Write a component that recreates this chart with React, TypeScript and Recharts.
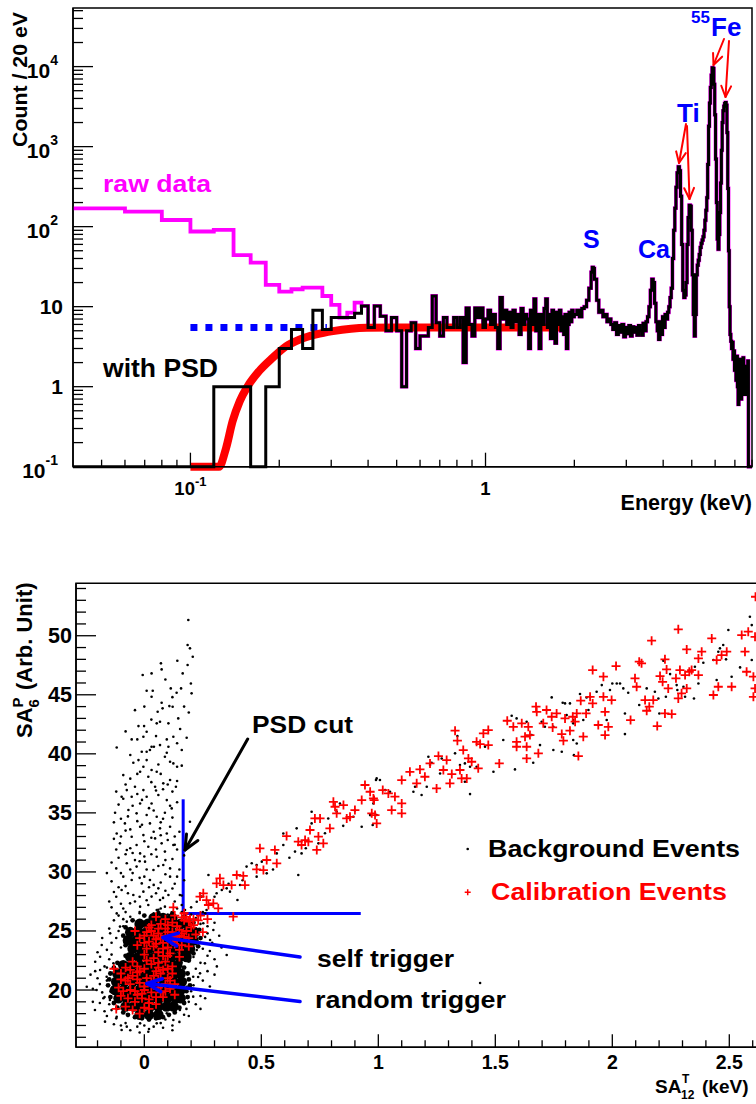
import React from "react";
import {
  LineChart,
  Line,
  XAxis,
  YAxis,
  ReferenceArea,
  ReferenceLine,
  ScatterChart,
  Scatter,
} from "recharts";

const FONT = "'Liberation Sans', Arial, Helvetica, sans-serif";

// ---------- top panel: energy spectrum ----------
const BIN_START = 0.04; // keV
const BIN_WIDTH = 0.02; // 20 eV bins
const FLOOR = 0.1; // empty bins sit on the axis

// "with PSD", 20 eV bins from 0.04 to 2.0 keV
const PSD_COUNTS = [
  0, 0, 0, 0, 1, 1, 0, 1, 3, 5.2, 3, 9, 5.2, 7.3, 7.3, 7.3, 8.3, 10.2, 5.5, 10.2,
  7.6, 5.0, 7.3, 5.0, 1.0, 5.0, 6.3, 3.0, 4.3, 4.3, 5.5, 13.6, 6.3, 4.3, 7.3, 5.5,
  5.5, 7.3, 5.5, 7.3, 2.0, 9.6, 6.0, 4.3, 9.6, 7.3, 9.6, 5.5,
  7, 9, 6, 8, 5.5, 3.0, 13, 7, 9, 6, 8.5, 5.5, 9, 6.5, 8, 4.5, 9.5, 6, 8, 7,
  3.0, 9, 6, 12.5, 5, 8, 3.0, 8, 6, 9.5, 12.5, 5.5, 8, 4, 9, 6.5, 3.5, 8.5, 6, 9,
  5, 7.5, 4.5, 8, 3.0, 6, 8.5, 6.5, 9, 7.5,
];

// raw data below 0.38 keV (above that it equals the PSD spectrum)
const RAW_LOW_COUNTS = [
  169, 154, 121, 87, 91, 44, 35.5, 18.7, 15.4, 16.5, 17.3, 17.3, 13.6, 10.5, 7.3, 8.4, 11.2,
];

// with PSD above 2 keV: [energy keV, count]
const PSD_HIGH: [number, number][] = [
  [2.0, 8], [2.04, 9], [2.08, 7.5], [2.12, 9.5], [2.16, 10], [2.2, 12], [2.24, 17],
  [2.28, 27], [2.3, 31], [2.32, 30], [2.34, 22], [2.38, 12], [2.42, 8.5], [2.46, 9],
  [2.5, 7.5], [2.54, 8], [2.58, 6.5], [2.62, 7], [2.66, 6], [2.7, 5.2], [2.74, 6.3],
  [2.78, 4.5], [2.82, 5.8], [2.86, 4.8], [2.9, 6], [2.94, 4.2], [2.98, 5.5], [3.02, 4.6],
  [3.06, 5.8], [3.1, 4.3], [3.14, 5.6], [3.18, 4.8], [3.22, 5.5], [3.26, 4.4], [3.3, 5.8],
  [3.34, 5.0], [3.38, 4.4], [3.42, 6.2], [3.46, 5.0], [3.5, 6.5], [3.54, 7.5], [3.58, 10],
  [3.62, 16], [3.66, 22], [3.7, 20], [3.74, 11], [3.78, 6.5], [3.82, 5.0], [3.86, 3.9],
  [3.9, 6.5], [3.94, 4.5], [3.98, 7.5], [4.02, 5.5], [4.06, 8.0], [4.1, 7.0], [4.14, 8.5],
  [4.18, 10], [4.22, 13], [4.26, 17], [4.3, 40], [4.34, 90], [4.38, 170], [4.42, 310],
  [4.46, 470], [4.5, 560], [4.54, 500], [4.58, 240], [4.62, 60], [4.66, 16], [4.7, 13],
  [4.74, 14], [4.78, 20], [4.82, 60], [4.86, 130], [4.9, 185], [4.94, 180], [4.98, 90],
  [5.02, 25], [5.06, 8], [5.1, 4.3], [5.14, 8], [5.18, 25], [5.22, 33], [5.26, 38],
  [5.3, 45], [5.34, 55], [5.38, 62], [5.42, 68], [5.46, 75], [5.5, 90], [5.54, 120],
  [5.58, 160], [5.62, 230], [5.66, 600], [5.7, 1800], [5.74, 3500], [5.78, 5500],
  [5.82, 7800], [5.86, 9700], [5.9, 9500], [5.94, 6000], [5.98, 2500], [6.02, 700],
  [6.06, 200], [6.1, 70], [6.14, 52], [6.18, 80], [6.22, 150], [6.26, 350], [6.3, 900],
  [6.34, 2000], [6.38, 2800], [6.42, 3200], [6.46, 3450], [6.5, 3570], [6.54, 3300],
  [6.58, 1500], [6.62, 300], [6.66, 50], [6.7, 10], [6.74, 4.5], [6.78, 3.7], [6.82, 3.0],
  [6.86, 3.6], [6.9, 2.2], [6.94, 2.8], [6.98, 1.6], [7.02, 2.1], [7.06, 1.2], [7.1, 2.4],
  [7.14, 1.0], [7.18, 0.6], [7.22, 1.6], [7.26, 0.8], [7.3, 2.2], [7.34, 0.7], [7.38, 2.0],
  [7.42, 1.0], [7.46, 2.3], [7.5, 1.4], [7.54, 0.8], [7.58, 1.8], [7.62, 1.0], [7.66, 0.8],
  [7.7, 1.6], [7.74, 2.1], [7.78, 0], [8.0, 0],
];

// efficiency fit (red) and flat level (blue)
const FIT_CURVE: [number, number][] = [
  [0.1, 0.1], [0.12, 0.1], [0.125, 0.1], [0.132, 0.17], [0.139, 0.37], [0.147, 0.66],
  [0.156, 1.0], [0.171, 1.57], [0.19, 2.3], [0.211, 3.2], [0.235, 3.9], [0.267, 4.5],
  [0.304, 4.95], [0.35, 5.3], [0.395, 5.45], [0.5, 5.5], [1.0, 5.5], [1.8, 5.5],
];
const FLAT_LEVEL: [number, number][] = [[0.1, 5.5], [0.29, 5.5]];

const TOP_Y_MAJOR = [0.1, 1, 10, 100, 1000, 10000];
const TOP_Y_LABELS = [["10", "-1"], ["1", ""], ["10", ""], ["10", "2"], ["10", "3"], ["10", "4"]];
const TOP_X_MAJOR = [0.1, 1];
const TOP_X_LABELS = [["10", "-1"], ["1", ""]];
const TOP_X_MINOR = [0.05, 0.06, 0.07, 0.08, 0.09, 0.2, 0.3, 0.4, 0.5, 0.6, 0.7, 0.8, 0.9, 2, 3, 4, 5, 6, 7, 8];

// ---------- bottom panel: pulse shape scatter ----------
const BG_PLUME: [number, number][] = [
  [0.188, 51.33], [0.185, 49.21], [0.195, 48.93], [0.207, 48.22], [0.141, 47.88], [0.185, 47.52],
  [0.071, 47.66], [0.074, 47.15], [-0.007, 46.67], [0.031, 46.81], [0.164, 46.81], [0.199, 45.96],
  [0.113, 45.54], [0.138, 45.17], [0.157, 45.54], [0.202, 45.12], [0.01, 45.34], [0.036, 45.34],
  [0.031, 44.83], [0.074, 44.33], [0.107, 44.04], [0.121, 43.99], [0.078, 43.85], [0.057, 43.56],
  [0.145, 43.0], [0.103, 42.58], [0.067, 42.72], [0.053, 42.58], [-0.025, 42.35], [-0.001, 42.35],
  [0.153, 42.1], [0.01, 41.87], [-0.054, 41.22], [-0.03, 41.22], [-0.004, 41.45], [0.096, 41.22],
  [0.124, 41.45], [0.181, 41.36], [-0.118, 40.54], [0.031, 40.6], [0.041, 40.6], [0.067, 40.74],
  [0.103, 40.6], [0.16, 40.32], [-0.011, 40.18], [0.01, 40.18], [0.024, 40.32], [0.096, 40.09],
  [-0.025, 39.47], [0.01, 39.47], [0.088, 39.75], [0.11, 39.33], [0.124, 39.19], [-0.047, 39.25],
  [-0.004, 38.91], [0.031, 38.63], [0.053, 38.48], [-0.018, 38.48], [0.017, 38.06], [0.11, 37.78],
  [0.081, 37.5], [-0.04, 37.21], [0.046, 37.21], [-0.075, 36.93], [-0.004, 36.93], [0.135, 37.21],
  [-0.097, 36.37], [-0.054, 36.37], [0.01, 36.37], [0.06, 36.51], [0.096, 36.08], [-0.018, 35.8],
  [0.031, 35.8], [0.117, 35.38], [-0.125, 35.01], [-0.068, 35.24], [-0.033, 34.96], [0.01, 34.82],
  [0.053, 34.67], [0.088, 35.01], [0.195, 34.25], [-0.083, 34.11], [-0.018, 33.83], [0.024, 34.11],
  [0.067, 33.69], [0.11, 33.83], [-0.118, 33.26], [-0.054, 32.98], [-0.004, 33.12], [0.046, 32.84],
  [0.096, 33.26], [-0.104, 32.42], [-0.033, 32.28], [0.017, 32.13], [0.074, 32.42], [0.124, 32.28],
  [-0.075, 31.86], [-0.018, 31.57], [0.053, 31.29], [0.088, 31.72], [-0.075, 30.73], [-0.033, 30.45],
  [0.003, 30.87], [0.039, 30.16], [0.081, 30.59], [0.11, 29.6], [-0.09, 29.6], [-0.054, 29.32],
  [-0.011, 29.03], [0.024, 29.32], [0.06, 28.61], [-0.097, 28.47], [-0.047, 28.05], [-0.004, 28.33],
  [0.031, 27.91], [0.067, 27.62], [0.103, 28.05], [-0.061, 27.34], [-0.018, 27.06], [0.017, 27.2],
  [0.053, 26.78], [0.088, 27.06], [-0.118, 26.49], [0.124, 26.49], [0.152, 28.05],
  [-0.09, 38.2], [0.06, 39.1], [0.14, 38.9], [-0.06, 37.9], [0.03, 37.6], [0.12, 36.8], [-0.03, 36.6],
  [0.08, 37.0], [-0.11, 35.7], [0.04, 35.2], [0.14, 35.9], [-0.05, 35.6], [0.07, 34.2], [-0.1, 34.5],
  [0.12, 34.6], [-0.03, 34.3], [0.15, 33.4], [-0.08, 33.5], [0.04, 33.4], [-0.13, 32.8], [0.1, 32.7],
  [0.0, 32.6], [-0.06, 32.0], [0.14, 31.9], [0.03, 31.5], [-0.11, 31.2], [0.12, 31.1], [-0.02, 30.9],
  [0.06, 30.5], [-0.12, 30.3], [0.15, 30.2], [-0.05, 29.9], [0.09, 29.8], [0.0, 29.6], [-0.14, 29.2],
  [0.13, 29.0], [0.04, 28.9], [-0.08, 28.8], [0.09, 28.4], [-0.12, 27.9], [0.01, 27.6], [0.13, 27.5],
  [-0.04, 27.5], [0.07, 26.9], [-0.09, 26.9], [0.16, 27.2], [-0.02, 26.5], [0.1, 26.4], [0.03, 42.9],
  [0.12, 44.8], [-0.04, 43.7], [0.09, 46.3], [0.17, 44.0], [-0.06, 39.9], [0.16, 39.0], [0.05, 41.5],
  [-0.08, 41.9], [0.14, 40.9], [0.0, 44.0], [0.19, 43.5],
  [-0.15, 27.5], [-0.13, 28.3], [-0.1, 27.3], [-0.07, 28.2], [-0.02, 27.9], [0.05, 28.2], [0.12, 28.6],
  [0.16, 28.0], [-0.14, 30.8], [-0.1, 29.9], [-0.06, 30.2], [-0.02, 29.5], [0.02, 28.7], [0.07, 29.1],
  [0.11, 30.3], [0.14, 29.6], [-0.12, 31.9], [-0.08, 31.5], [-0.04, 31.0], [0.0, 31.3], [0.05, 31.9],
  [0.09, 31.0], [0.13, 32.3], [0.17, 31.4], [-0.1, 33.0], [-0.06, 33.6], [-0.01, 34.0], [0.03, 32.9],
  [0.07, 33.1], [0.13, 33.0], [-0.13, 34.2], [-0.07, 34.7], [0.02, 35.4], [0.08, 34.5], [0.11, 35.6],
  [-0.09, 36.2], [-0.01, 36.1], [0.05, 36.9], [0.1, 37.4], [-0.12, 36.8], [-0.08, 37.4], [0.14, 37.7],
  [-0.03, 38.3], [0.07, 38.3], [-0.14, 27.0], [0.14, 26.9], [-0.08, 26.6], [0.04, 26.5], [-0.11, 28.7],
  [0.08, 27.8], [-0.16, 29.9], [0.17, 29.3], [-0.05, 31.6], [0.01, 30.2],
];

const BG_HALO: [number, number][] = [
  [-0.182, 23.81], [-0.246, 20.28], [-0.211, 18.31], [-0.168, 17.32], [-0.097, 16.62], [0.017, 16.47],
  [-0.018, 17.18], [-0.146, 24.8], [-0.132, 22.26], [-0.161, 21.13], [-0.147, 19.16], [-0.118, 17.74],
  [-0.075, 16.9], [0.053, 17.18], [0.096, 18.03], [0.152, 18.31], [0.209, 19.44], [0.238, 21.41],
  [0.259, 22.26], [0.281, 24.24], [0.295, 25.08], [0.252, 25.65], [0.352, 22.97], [0.224, 23.39],
  [0.181, 20.28], [0.209, 21.13], [0.188, 22.82], [-0.189, 21.7], [-0.204, 20.0], [-0.175, 19.3],
  [-0.104, 25.37], [-0.075, 25.79], [0.238, 20.0], [0.124, 17.46], [-0.047, 18.31], [-0.189, 22.82],
  [1.435, 20.6], [-0.17, 22.0], [-0.16, 20.8], [-0.18, 19.8], [-0.15, 18.8], [-0.12, 17.6], [-0.08, 17.2],
  [0.09, 17.5], [0.14, 18.5], [0.19, 19.0], [0.21, 20.4], [0.22, 21.8], [0.21, 22.8], [0.25, 23.5],
  [0.26, 24.5], [0.24, 25.6], [0.2, 26.4], [-0.1, 23.6], [-0.12, 24.4], [-0.09, 25.4], [-0.06, 26.2],
  [-0.14, 23.0], [0.28, 23.3], [0.3, 22.6], [0.27, 21.6], [0.24, 19.5], [-0.2, 21.0], [-0.22, 19.0],
  [0.04, 16.9], [0.12, 17.0], [-0.03, 16.9], [-0.13, 25.9], [-0.16, 23.4], [-0.19, 20.5], [-0.17, 18.2],
  [-0.1, 17.0], [0.0, 17.0], [0.07, 17.2], [0.17, 17.9], [0.22, 18.8], [0.25, 20.8], [0.27, 22.9],
  [0.29, 24.0], [0.27, 25.4], [0.22, 26.1], [-0.02, 26.6], [0.06, 26.8], [0.12, 26.0], [-0.21, 22.4],
  [-0.23, 21.3],
  [-0.2, 23.2], [-0.18, 24.4], [-0.15, 25.2], [-0.11, 26.3], [-0.22, 20.1], [-0.21, 21.6], [-0.19, 18.9],
  [-0.16, 17.8], [-0.13, 17.1], [-0.06, 16.6], [0.02, 16.7], [0.08, 16.8], [0.15, 17.3], [0.19, 17.8],
  [0.24, 18.4], [0.26, 19.3], [0.28, 20.3], [0.3, 21.3], [0.31, 22.0], [0.33, 23.6], [0.32, 24.6],
  [0.3, 25.7], [0.26, 26.5], [0.16, 26.6], [-0.15, 22.6], [-0.16, 21.9], [-0.17, 19.4], [-0.14, 18.3],
  [0.18, 18.4], [0.2, 19.9], [0.23, 21.1], [0.24, 22.3], [0.23, 24.0], [0.22, 25.2], [0.27, 24.8],
  [-0.14, 24.0], [-0.11, 25.0], [-0.09, 26.0], [0.12, 16.6], [-0.02, 16.4],
];

// fringe of the two dense clusters (medium dots)
const BG_EDGE: [number, number][] = [
  [-0.155, 20.4], [-0.145, 19.4], [-0.115, 18.5], [-0.07, 17.9], [-0.01, 17.6], [0.05, 17.6],
  [0.105, 17.9], [0.15, 18.5], [0.185, 19.4], [0.195, 20.4], [0.185, 21.4], [0.155, 22.3],
  [-0.145, 21.4], [-0.115, 22.3], [-0.14, 19.9], [-0.13, 18.9], [-0.09, 18.1], [-0.04, 17.7],
  [0.02, 17.5], [0.08, 17.7], [0.13, 18.1], [0.17, 18.9], [0.18, 19.9], [0.19, 20.9], [0.17, 21.9],
  [-0.15, 20.9], [-0.13, 21.9], [-0.09, 24.6], [-0.08, 23.8], [-0.08, 25.3], [-0.05, 25.9],
  [0.0, 26.3], [0.06, 26.5], [0.12, 26.5], [0.17, 26.2], [0.21, 25.7], [0.235, 25.1], [0.24, 24.4],
  [0.23, 23.7], [0.21, 23.1], [0.19, 22.5], [-0.08, 22.9],
];

// dense cores of the random-trigger and self-trigger clusters
const BG_CORE: [number, number][] = [
  [-0.02, 17.9], [0.02, 17.9], [0.06, 17.9],
  [-0.08, 18.6], [-0.045, 18.6], [-0.01, 18.6], [0.025, 18.6], [0.06, 18.6], [0.095, 18.6], [0.125, 18.6],
  [-0.11, 19.3], [-0.075, 19.3], [-0.04, 19.3], [-0.005, 19.3], [0.03, 19.3], [0.065, 19.3], [0.1, 19.3], [0.135, 19.3], [0.155, 19.3],
  [-0.125, 20.0], [-0.09, 20.0], [-0.055, 20.0], [-0.02, 20.0], [0.015, 20.0], [0.05, 20.0], [0.085, 20.0], [0.12, 20.0], [0.155, 20.0],
  [-0.12, 20.7], [-0.085, 20.7], [-0.05, 20.7], [-0.015, 20.7], [0.02, 20.7], [0.055, 20.7], [0.09, 20.7], [0.125, 20.7], [0.16, 20.7],
  [-0.115, 21.4], [-0.08, 21.4], [-0.045, 21.4], [-0.01, 21.4], [0.025, 21.4], [0.06, 21.4], [0.095, 21.4], [0.13, 21.4], [0.155, 21.4],
  [-0.09, 22.1], [-0.055, 22.1], [-0.02, 22.1], [0.015, 22.1], [0.05, 22.1], [0.085, 22.1], [0.12, 22.1], [0.14, 22.1],
  [-0.06, 22.8], [-0.025, 22.8], [0.01, 22.8], [0.045, 22.8], [0.08, 22.8], [0.115, 22.8], [0.15, 22.8], [0.18, 22.8],
  [-0.05, 23.5], [-0.015, 23.5], [0.02, 23.5], [0.055, 23.5], [0.09, 23.5], [0.125, 23.5], [0.16, 23.5], [0.195, 23.5],
  [-0.07, 24.2], [-0.035, 24.2], [0.0, 24.2], [0.035, 24.2], [0.07, 24.2], [0.105, 24.2], [0.14, 24.2], [0.175, 24.2], [0.21, 24.2],
  [-0.06, 24.9], [-0.025, 24.9], [0.01, 24.9], [0.045, 24.9], [0.08, 24.9], [0.115, 24.9], [0.15, 24.9], [0.185, 24.9], [0.215, 24.9],
  [-0.02, 25.6], [0.015, 25.6], [0.05, 25.6], [0.085, 25.6], [0.12, 25.6], [0.155, 25.6], [0.185, 25.6],
  [0.04, 26.1], [0.08, 26.1], [0.12, 26.1],
];

const BG_BAND: [number, number][] = [
  [0.174, 26.78], [0.224, 27.48], [0.245, 27.91], [0.266, 26.78], [0.309, 28.19], [0.331, 28.47],
  [0.352, 28.61], [0.366, 28.33], [0.398, 27.62], [0.409, 28.89], [0.437, 30.45], [0.459, 30.73],
  [0.48, 30.59], [0.502, 30.87], [0.523, 29.88], [0.566, 31.57], [0.594, 32.28], [0.644, 31.72],
  [0.658, 29.74], [0.672, 31.57], [0.744, 32.42], [0.772, 33.27], [0.274, 29.74], [0.594, 33.26],
  [0.651, 33.69], [0.715, 34.11], [0.715, 35.1], [0.786, 34.53], [0.822, 35.1], [0.836, 35.8],
  [0.893, 34.67], [0.929, 33.83], [0.965, 34.81], [0.993, 37.92], [0.979, 36.08],
  [0.2, 27.0], [0.25, 26.6], [0.3, 27.9], [0.36, 29.0], [0.42, 29.3], [0.48, 29.6], [0.55, 30.2],
  [0.62, 31.2], [0.69, 32.0], [0.85, 33.9], [0.9, 35.2],
  [0.979, 35.8], [0.976, 33.97], [0.99, 37.78], [1.007, 37.78], [1.029, 36.93], [1.05, 36.79],
  [0.993, 34.82], [1.15, 36.79], [1.157, 37.21], [1.185, 36.51], [1.207, 37.21], [1.214, 39.75],
  [1.221, 39.05], [1.228, 39.25], [1.264, 38.34], [1.271, 39.61], [1.328, 40.04], [1.338, 41.5],
  [1.349, 39.05], [1.37, 39.19], [1.392, 38.91], [1.37, 37.64], [1.392, 36.59], [1.42, 38.91],
  [1.456, 40.6], [1.492, 38.48], [1.534, 41.17], [1.584, 38.68], [1.57, 43.23], [1.591, 43.0],
  [1.634, 42.72], [1.655, 41.59], [1.662, 39.25], [1.691, 40.74], [1.698, 42.72], [1.712, 42.29],
  [1.741, 44.78], [1.748, 42.29], [1.748, 40.32], [1.784, 40.18], [1.788, 44.33], [1.798, 44.27],
  [1.805, 43.28], [1.819, 44.27], [1.833, 42.86], [1.833, 42.58], [1.833, 41.17], [1.848, 40.88],
  [1.836, 39.89], [1.862, 45.06], [1.876, 42.86], [1.89, 44.78], [1.898, 43.71], [1.905, 44.83],
  [1.933, 45.26], [1.955, 45.82], [1.976, 42.86], [1.99, 45.4], [2.0, 45.96], [2.019, 45.96],
  [2.033, 45.96], [2.047, 45.54], [2.054, 43.42], [2.054, 41.67], [2.068, 45.17], [2.115, 44.13],
  [2.147, 45.54], [2.182, 45.26], [2.197, 44.69], [2.201, 43.42], [2.218, 47.88], [2.229, 44.83],
  [2.247, 46.75], [2.275, 45.82], [2.278, 45.4], [2.304, 45.68], [2.311, 44.83], [2.349, 44.69],
  [2.353, 47.38], [2.368, 45.96], [2.389, 47.71], [2.432, 47.94], [2.446, 46.25], [2.453, 48.65],
  [2.46, 48.93], [2.474, 49.21], [2.486, 48.0], [2.496, 50.48], [2.51, 46.53], [2.546, 47.32],
  [2.588, 51.61], [2.596, 50.9], [2.596, 47.94],
];

const CAL_CLUSTER: [number, number][] = [
  [0.0, 24.6], [0.03, 25.0], [0.06, 24.8], [0.09, 25.2], [0.12, 24.9], [0.15, 25.1], [0.18, 25.0],
  [0.02, 24.1], [0.05, 24.3], [0.08, 24.0], [0.11, 24.4], [0.14, 24.2], [0.17, 24.5], [-0.02, 24.4],
  [0.04, 23.7], [0.1, 23.6], [0.13, 23.9], [0.07, 25.6], [0.12, 25.7], [0.2, 25.3], [0.22, 24.7],
  [0.16, 23.8], [-0.04, 25.0], [0.01, 23.5], [0.06, 23.2], [0.19, 25.8], [0.24, 26.3], [0.09, 24.6],
  [0.15, 24.6], [0.03, 25.5], [0.18, 26.2], [0.21, 26.0], [0.13, 26.3],
  [0.01, 24.9], [0.04, 24.6], [0.07, 24.4], [0.1, 24.9], [0.13, 24.5], [0.16, 24.8], [0.19, 24.4],
  [0.02, 25.3], [0.06, 25.2], [0.1, 25.5], [0.14, 25.4], [0.17, 25.9], [0.05, 23.9], [0.08, 23.5],
  [0.12, 24.1], [0.15, 23.4], [0.19, 23.7], [0.21, 25.5], [0.23, 25.9], [0.0, 24.0], [-0.03, 23.8],
  [0.11, 23.1], [0.09, 26.0], [0.25, 24.9], [0.17, 26.5], [0.27, 26.0], [0.05, 26.2],
  [-0.08, 20.8], [-0.05, 21.2], [-0.02, 20.6], [0.01, 21.0], [0.04, 20.4], [0.07, 21.4], [0.1, 21.0],
  [-0.06, 20.0], [-0.03, 19.6], [0.0, 20.0], [0.03, 19.8], [0.06, 20.2], [0.09, 19.9], [-0.07, 19.3],
  [-0.04, 19.0], [-0.01, 19.3], [0.02, 18.9], [0.05, 19.4], [0.0, 21.8], [0.03, 22.2], [0.06, 21.9],
  [0.09, 22.4], [0.12, 22.0], [-0.03, 22.0], [0.04, 22.7], [0.08, 22.9], [-0.1, 20.9], [0.12, 21.4],
  [-0.08, 18.6], [-0.12, 18.4], [0.0, 18.5], [-0.06, 21.7], [0.13, 20.5], [0.15, 22.8], [-0.1, 21.4],
  [-0.09, 19.9], [-0.06, 20.5], [-0.03, 20.9], [0.0, 20.3], [0.03, 20.7], [0.06, 20.9], [0.09, 20.5],
  [-0.08, 21.9], [-0.05, 22.4], [-0.02, 21.6], [0.01, 22.5], [0.06, 22.3], [0.1, 21.8], [-0.05, 18.3],
  [-0.02, 18.0], [0.02, 18.4], [0.05, 18.8], [0.08, 19.4], [0.11, 20.1], [-0.1, 19.5], [-0.04, 19.9],
  [0.02, 19.2], [0.07, 19.8], [-0.07, 21.0], [0.04, 21.2], [0.08, 21.7], [-0.11, 20.2], [0.13, 19.6],
  [0.1, 22.9], [0.0, 23.0], [-0.03, 21.5], [0.05, 21.6], [-0.01, 19.7], [0.11, 20.8], [-0.13, 21.8],
];

const CAL_BAND: [number, number][] = [
  [0.124, 27.0], [0.16, 26.16], [0.195, 25.99], [0.238, 27.91], [0.252, 28.19], [0.266, 27.62],
  [0.274, 27.2], [0.295, 27.34], [0.309, 29.03], [0.316, 26.92], [0.323, 29.46], [0.338, 28.89],
  [0.373, 28.89], [0.38, 26.21], [0.395, 29.74], [0.423, 29.66], [0.43, 28.89], [0.48, 30.22],
  [0.494, 32.0], [0.509, 30.16], [0.523, 31.01], [0.558, 31.86], [0.566, 30.73], [0.608, 33.04],
  [0.658, 32.56], [0.672, 32.28], [0.687, 32.7], [0.708, 33.55], [0.737, 31.86], [0.744, 32.99],
  [0.765, 32.42], [0.701, 32.56], [0.729, 34.53], [0.751, 34.53], [0.793, 33.69], [0.808, 35.94],
  [0.815, 35.52], [0.822, 34.96], [0.851, 35.66], [0.865, 34.53], [0.879, 34.67], [0.9, 35.24],
  [0.929, 36.08], [0.943, 37.36], [0.965, 36.79], [0.986, 34.81], [0.993, 34.11], [0.979, 36.22],
  [0.982, 36.08], [0.972, 34.96], [1.019, 36.93], [1.043, 36.65], [1.071, 36.37], [1.1, 37.78],
  [1.1, 35.8], [1.1, 34.96], [1.057, 35.24], [1.135, 38.48], [1.164, 37.5], [1.178, 38.68],
  [1.199, 38.06], [1.221, 39.19], [1.257, 39.81], [1.249, 37.07], [1.278, 38.63], [1.292, 39.47],
  [1.306, 37.5], [1.314, 38.29], [1.328, 41.96], [1.338, 41.11], [1.349, 38.63], [1.356, 37.92],
  [1.363, 40.32], [1.378, 37.92], [1.385, 39.61], [1.399, 39.33], [1.42, 41.02], [1.435, 40.83],
  [1.449, 41.73], [1.47, 42.01], [1.47, 40.74], [1.427, 38.77], [1.517, 39.19], [1.551, 42.8],
  [1.577, 42.29], [1.591, 41.02], [1.591, 40.6], [1.613, 42.58], [1.627, 41.45], [1.634, 40.6],
  [1.634, 39.61], [1.641, 42.29], [1.648, 41.59], [1.674, 43.99], [1.677, 43.56], [1.684, 40.04],
  [1.705, 42.58], [1.719, 43.71], [1.741, 43.14], [1.745, 42.24], [1.762, 43.42], [1.784, 41.67],
  [1.791, 41.11], [1.798, 43.0], [1.819, 41.96], [1.831, 43.14], [1.841, 42.72], [1.848, 43.42],
  [1.855, 39.81], [1.865, 44.5], [1.876, 41.45], [1.888, 43.42], [1.905, 44.83], [1.916, 47.09],
  [1.916, 44.27], [1.94, 42.44], [1.962, 46.53], [1.962, 44.83], [1.969, 43.56], [1.969, 41.59],
  [1.983, 42.29], [1.997, 44.55], [2.016, 47.43], [2.078, 42.86], [2.097, 46.39], [2.104, 45.68],
  [2.115, 47.8], [2.125, 47.66], [2.14, 44.55], [2.147, 43.65], [2.158, 43.99], [2.168, 49.58],
  [2.175, 44.55], [2.192, 42.35], [2.204, 46.58], [2.215, 46.1], [2.225, 48.0], [2.225, 43.42],
  [2.232, 47.15], [2.239, 45.54], [2.254, 43.37], [2.272, 46.39], [2.282, 50.54], [2.282, 44.69],
  [2.289, 47.09], [2.296, 45.12], [2.311, 46.67], [2.318, 48.84], [2.318, 45.54], [2.329, 46.95],
  [2.339, 47.09], [2.368, 46.67], [2.368, 48.08], [2.382, 48.65], [2.425, 49.77], [2.432, 44.98],
  [2.446, 47.94], [2.453, 45.68], [2.467, 48.36], [2.489, 48.65], [2.51, 45.68], [2.553, 50.06],
  [2.567, 48.65], [2.574, 46.95], [2.581, 50.34], [2.603, 46.53], [2.603, 44.83], [2.61, 49.91],
  [2.61, 45.54], [2.612, 53.3],
];

const PSD_CUT_X = 0.166;
const PSD_CUT_Y = 26.48;

const BOT_X_MAJOR = [0, 0.5, 1, 1.5, 2, 2.5];
const BOT_X_LABELS = ["0", "0.5", "1", "1.5", "2", "2.5"];
const BOT_Y_MAJOR = [20, 25, 30, 35, 40, 45, 50];

// ---------- derived series ----------
const psdSeries = [
  ...PSD_COUNTS.map((c, i) => ({ e: +(BIN_START + i * BIN_WIDTH).toFixed(2), c: Math.max(c, FLOOR) })),
  ...PSD_HIGH.map(([e, c]) => ({ e, c: Math.max(c, FLOOR) })),
];
const rawSeries = [
  ...RAW_LOW_COUNTS.map((c, i) => ({ e: +(BIN_START + i * BIN_WIDTH).toFixed(2), c })),
  ...psdSeries.slice(RAW_LOW_COUNTS.length),
];
const fitSeries = FIT_CURVE.map(([e, c]) => ({ e, c }));
const flatSeries = FLAT_LEVEL.map(([e, c]) => ({ e, c }));

const topYTicks: number[] = [];
TOP_Y_MAJOR.forEach((d) => {
  topYTicks.push(d);
  for (let k = 2; k <= 9; k++) if (d * k < 54000) topYTicks.push(d * k);
});
const topXTicks = [...TOP_X_MAJOR, ...TOP_X_MINOR];

const botXTicks: number[] = [];
for (let i = -2; i <= 26; i++) botXTicks.push(i / 10);
const botYTicks: number[] = [];
for (let i = 16; i <= 54; i++) botYTicks.push(i);

const pts = (a: [number, number][]) => a.map(([x, y]) => ({ x, y }));
const near = (list: number[], v: number) => list.findIndex((m) => Math.abs(m - v) < 1e-9);

// ---------- tick renderers (ROOT style: ticks inside the frame) ----------
const TopYTick = ({ x, y, payload }: any) => {
  const i = near(TOP_Y_MAJOR, payload.value);
  const lab = i >= 0 ? TOP_Y_LABELS[i] : null;
  return (
    <g>
      <line x1={x} x2={x + (lab ? 20 : 10)} y1={y} y2={y} stroke="#000" strokeWidth={1.3} />
      {lab && (
        <text x={lab[1] ? x - 15 : x - 10} y={y + (lab[1] ? 11 : 7)} textAnchor="end"
          fontFamily={FONT} fontWeight="bold" fontSize={21} fill="#000">
          {lab[0]}
          {lab[1] && <tspan dy={-13} fontSize={14}>{lab[1]}</tspan>}
        </text>
      )}
    </g>
  );
};

const TopXTick = ({ x, y, payload }: any) => {
  const i = near(TOP_X_MAJOR, payload.value);
  const lab = i >= 0 ? TOP_X_LABELS[i] : null;
  return (
    <g>
      <line x1={x} x2={x} y1={y} y2={y - (lab ? 14 : 7)} stroke="#000" strokeWidth={1.3} />
      {lab && (
        <text x={x} y={y + 28} textAnchor="middle" fontFamily={FONT} fontWeight="bold" fontSize={18.5} fill="#000">
          {lab[0]}
          {lab[1] && <tspan dy={-9} fontSize={13}>{lab[1]}</tspan>}
        </text>
      )}
    </g>
  );
};

const BotYTick = ({ x, y, payload }: any) => {
  const major = near(BOT_Y_MAJOR, payload.value) >= 0;
  return (
    <g>
      <line x1={x} x2={x + (major ? 20 : 10)} y1={y} y2={y} stroke="#000" strokeWidth={1.3} />
      {major && (
        <text x={x - 4} y={y + 7.5} textAnchor="end" fontFamily={FONT} fontWeight="bold" fontSize={21.5} fill="#000">
          {payload.value}
        </text>
      )}
    </g>
  );
};

const BotXTick = ({ x, y, payload }: any) => {
  const i = near(BOT_X_MAJOR, payload.value);
  return (
    <g>
      <line x1={x} x2={x} y1={y} y2={y - (i >= 0 ? 13 : 7)} stroke="#000" strokeWidth={1.3} />
      {i >= 0 && (
        <text x={x} y={y + 22} textAnchor="middle" fontFamily={FONT} fontWeight="bold" fontSize={19.5} fill="#000">
          {BOT_X_LABELS[i]}
        </text>
      )}
    </g>
  );
};

// ---------- scatter markers ----------
const DotShape = (p: any) => <circle cx={p.cx} cy={p.cy} r={1.3} fill="#000" />;
const EdgeShape = (p: any) => <circle cx={p.cx} cy={p.cy} r={2.4} fill="#000" />;
const CoreShape = (p: any) => <circle cx={p.cx} cy={p.cy} r={5.3} fill="#000" />;
const CrossShape = (p: any) => (
  <path d={`M${p.cx - 4.5},${p.cy}H${p.cx + 4.5}M${p.cx},${p.cy - 4.5}V${p.cy + 4.5}`}
    stroke="#ff0000" strokeWidth={1.8} fill="none" />
);

function Arrow({ x1, y1, x2, y2, color, w, head }: any) {
  const a = Math.atan2(y2 - y1, x2 - x1);
  const h1 = [x2 - head * Math.cos(a - 0.42), y2 - head * Math.sin(a - 0.42)];
  const h2 = [x2 - head * Math.cos(a + 0.42), y2 - head * Math.sin(a + 0.42)];
  return (
    <g stroke={color} strokeWidth={w} fill="none" strokeLinecap="round" strokeLinejoin="round">
      <line x1={x1} y1={y1} x2={x2} y2={y2} />
      <polyline points={`${h1[0]},${h1[1]} ${x2},${y2} ${h2[0]},${h2[1]}`} />
    </g>
  );
}

const txt = { fontFamily: FONT, fontWeight: "bold" as const };

export default function App() {
  return (
    <div style={{ position: "absolute", left: 0, top: 0, width: 756, height: 1104, overflow: "hidden", background: "#fff" }}>
      <div style={{ position: "absolute", left: 0, top: 0 }}>
        <LineChart width={756} height={530} margin={{ top: 8, right: 4, bottom: 13.3, left: 8 }}>
          <XAxis type="number" dataKey="e" scale="log" domain={[0.04, 8]} ticks={topXTicks} interval={0}
            tick={TopXTick} tickLine={false} tickSize={0} tickMargin={0} height={50}
            axisLine={{ stroke: "#000", strokeWidth: 1.5 }} />
          <YAxis type="number" dataKey="c" scale="log" domain={[0.1, 54000]} ticks={topYTicks} interval={0}
            tick={TopYTick} tickLine={false} tickSize={0} tickMargin={0} width={65}
            axisLine={{ stroke: "#000", strokeWidth: 1.5 }} />
          <ReferenceArea x1={0.04} x2={8} y1={0.1} y2={54000} fill="none" stroke="#000" strokeWidth={1.5} ifOverflow="visible" />
          <Line data={rawSeries} dataKey="c" type="stepAfter" stroke="#ff00ff" strokeWidth={3.8} dot={false} activeDot={false} isAnimationActive={false} />
          <Line data={flatSeries} dataKey="c" type="linear" stroke="#0000ff" strokeWidth={7} strokeDasharray="7 8" dot={false} activeDot={false} isAnimationActive={false} />
          <Line data={fitSeries} dataKey="c" type="monotone" stroke="#ff0000" strokeWidth={8} dot={false} activeDot={false} isAnimationActive={false} />
          <Line data={psdSeries} dataKey="c" type="stepAfter" stroke="#000" strokeWidth={3} dot={false} activeDot={false} isAnimationActive={false} />
        </LineChart>
      </div>

      <div style={{ position: "absolute", left: 0, top: 560 }}>
        <ScatterChart width={770} height={544} margin={{ top: 23.3, right: 5.6, bottom: 16.7, left: 6 }}>
          <XAxis type="number" dataKey="x" domain={[-0.292, 2.65]} ticks={botXTicks} interval={0}
            tick={BotXTick} tickLine={false} tickSize={0} tickMargin={0} height={40}
            axisLine={{ stroke: "#000", strokeWidth: 1.5 }} />
          <YAxis type="number" dataKey="y" domain={[15.15, 54.44]} ticks={botYTicks} interval={0}
            tick={BotYTick} tickLine={false} tickSize={0} tickMargin={0} width={70}
            axisLine={{ stroke: "#000", strokeWidth: 1.5 }} />
          <ReferenceArea x1={-0.292} x2={2.65} y1={15.15} y2={54.44} fill="none" stroke="#000" strokeWidth={1.5} ifOverflow="visible" />
          <Scatter data={pts(BG_PLUME)} shape={DotShape} isAnimationActive={false} />
          <Scatter data={pts(BG_HALO)} shape={DotShape} isAnimationActive={false} />
          <Scatter data={pts(BG_BAND)} shape={DotShape} isAnimationActive={false} />
          <Scatter data={pts(BG_EDGE)} shape={EdgeShape} isAnimationActive={false} />
          <Scatter data={pts(BG_CORE)} shape={CoreShape} isAnimationActive={false} />
          <Scatter data={pts(CAL_CLUSTER)} shape={CrossShape} isAnimationActive={false} />
          <Scatter data={pts(CAL_BAND)} shape={CrossShape} isAnimationActive={false} />
          <ReferenceLine segment={[{ x: PSD_CUT_X, y: PSD_CUT_Y }, { x: PSD_CUT_X, y: 36.15 }]} stroke="#0000ff" strokeWidth={3} ifOverflow="visible" />
          <ReferenceLine segment={[{ x: PSD_CUT_X, y: PSD_CUT_Y }, { x: 0.925, y: PSD_CUT_Y }]} stroke="#0000ff" strokeWidth={3} ifOverflow="visible" />
        </ScatterChart>
      </div>

      <svg width={756} height={1104} style={{ position: "absolute", left: 0, top: 0, pointerEvents: "none" }}>
        {/* top panel titles and labels */}
        <text transform="translate(27,147) rotate(-90)" fontSize={20} textLength={135} lengthAdjust="spacingAndGlyphs" {...txt}>Count / 20 eV</text>
        <text x={752} y={510} textAnchor="end" fontSize={21.5} {...txt}>Energy (keV)</text>
        <text x={103} y={192} fontSize={24} fill="#ff00ff" textLength={108} lengthAdjust="spacingAndGlyphs" {...txt}>raw data</text>
        <text x={103} y={377} fontSize={25} fill="#000" textLength={115} lengthAdjust="spacingAndGlyphs" {...txt}>with PSD</text>
        <text x={583} y={248} fontSize={25} fill="#0000ff" {...txt}>S</text>
        <text x={638} y={258} fontSize={25} fill="#0000ff" {...txt}>Ca</text>
        <text x={677} y={122} fontSize={26} fill="#0000ff" {...txt}>Ti</text>
        <text x={691} y={23} fontSize={17} fill="#0000ff" {...txt}>55</text>
        <text x={711} y={36} fontSize={26} fill="#0000ff" {...txt}>Fe</text>
        <Arrow x1={686} y1={124} x2={679} y2={163} color="#ff0000" w={2} head={12} />
        <Arrow x1={687} y1={126} x2={689.5} y2={199} color="#ff0000" w={2} head={12} />
        <Arrow x1={724} y1={39} x2={713.5} y2={65} color="#ff0000" w={2} head={12} />
        <Arrow x1={729} y1={41} x2={725.5} y2={97} color="#ff0000" w={2} head={12} />

        {/* bottom panel titles and labels */}
        <text transform="translate(32,738) rotate(-90)" fontSize={22} {...txt}>
          SA<tspan dy={-9} fontSize={15}>P</tspan>
          <tspan dx={-10} dy={16} fontSize={15}>6</tspan>
          <tspan dx={3} dy={-7}> (Arb. Unit)</tspan>
        </text>
        <text x={655} y={1093} fontSize={19} {...txt}>SA</text>
        <text x={682} y={1083} fontSize={12} {...txt}>T</text>
        <text x={681} y={1099} fontSize={12} {...txt}>12</text>
        <text x={702} y={1093} fontSize={19} {...txt}>(keV)</text>
        <text x={252} y={733} fontSize={24} textLength={101} lengthAdjust="spacingAndGlyphs" {...txt}>PSD cut</text>
        <Arrow x1={247.7} y1={739} x2={185} y2={850} color="#000" w={3} head={16} />
        <text x={317} y={966.5} fontSize={23} textLength={137} lengthAdjust="spacingAndGlyphs" {...txt}>self trigger</text>
        <text x={315} y={1008} fontSize={23} textLength={191} lengthAdjust="spacingAndGlyphs" {...txt}>random trigger</text>
        <Arrow x1={300} y1={957} x2={163} y2={937.5} color="#0000ff" w={3.5} head={16} />
        <Arrow x1={300} y1={1001.5} x2={147} y2={983.5} color="#0000ff" w={3.5} head={16} />

        {/* legend */}
        <circle cx={467.7} cy={849} r={1.3} fill="#000" />
        <text x={488} y={857} fontSize={24} textLength={252} lengthAdjust="spacingAndGlyphs" {...txt}>Background Events</text>
        <path d="M464.7,892.3H470.7M467.7,889.3V895.3" stroke="#ff0000" strokeWidth={1.5} />
        <text x={491} y={900} fontSize={24} fill="#ff0000" textLength={236} lengthAdjust="spacingAndGlyphs" {...txt}>Calibration Events</text>
      </svg>
    </div>
  );
}
